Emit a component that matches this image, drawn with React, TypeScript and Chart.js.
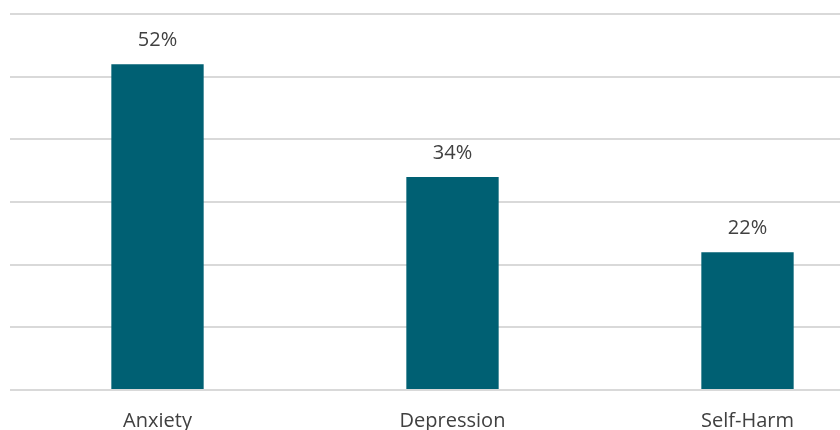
import React, { useEffect, useRef } from "react";
import { Chart, registerables } from "chart.js";

Chart.register(...registerables);

const categories = ["Anxiety", "Depression", "Self-Harm"];
const values = [52, 34, 22];
const yTicks = [0, 10, 20, 30, 40, 50, 60];

const barColor = "#006073";
const textColor = "#404040";
const gridColor = "#d9d9d9";

const dataLabelPlugin = {
  id: "dataLabels",
  afterDatasetsDraw(chart: any) {
    const ctx = chart.ctx;
    const meta = chart.getDatasetMeta(0);
    ctx.save();
    ctx.fillStyle = textColor;
    ctx.font = "20px 'Open Sans', sans-serif";
    ctx.textAlign = "center";
    ctx.textBaseline = "alphabetic";
    meta.data.forEach((bar: any, i: number) => {
      ctx.fillText(values[i] + "%", bar.x, bar.y - 18);
    });
    ctx.restore();
  },
};

export default function App() {
  const ref = useRef<HTMLCanvasElement | null>(null);
  useEffect(() => {
    if (!ref.current) return;
    const chart = new Chart(ref.current, {
      type: "bar",
      data: {
        labels: categories,
        datasets: [
          {
            data: values,
            backgroundColor: barColor,
            barPercentage: 1,
            categoryPercentage: 0.313,
          },
        ],
      },
      options: {
        responsive: false,
        animation: false,
        layout: { padding: { left: 10, top: 14, right: 0, bottom: 0 } },
        plugins: { legend: { display: false }, tooltip: { enabled: false } },
        scales: {
          x: {
            grid: { display: false, drawTicks: false },
            border: { display: false },
            ticks: {
              color: textColor,
              font: { family: "'Open Sans', sans-serif", size: 20 },
              padding: 19,
            },
            afterFit: (s: any) => {
              s.height = 40;
            },
          },
          y: {
            min: 0,
            max: 60,
            afterBuildTicks: (s: any) => {
              s.ticks = yTicks.map((v) => ({ value: v }));
            },
            grid: { color: gridColor, lineWidth: 2, drawTicks: false },
            border: { display: false },
            ticks: { display: false },
            afterFit: (s: any) => {
              s.width = 0;
            },
          },
        },
      },
      plugins: [dataLabelPlugin],
    });
    return () => chart.destroy();
  }, []);
  return (
    <div
      style={{
        position: "absolute",
        left: 0,
        top: 0,
        width: 840,
        height: 430,
        overflow: "hidden",
        background: "#fff",
      }}
    >
      <canvas ref={ref} width={895} height={430} style={{ width: 895, height: 430 }} />
    </div>
  );
}
